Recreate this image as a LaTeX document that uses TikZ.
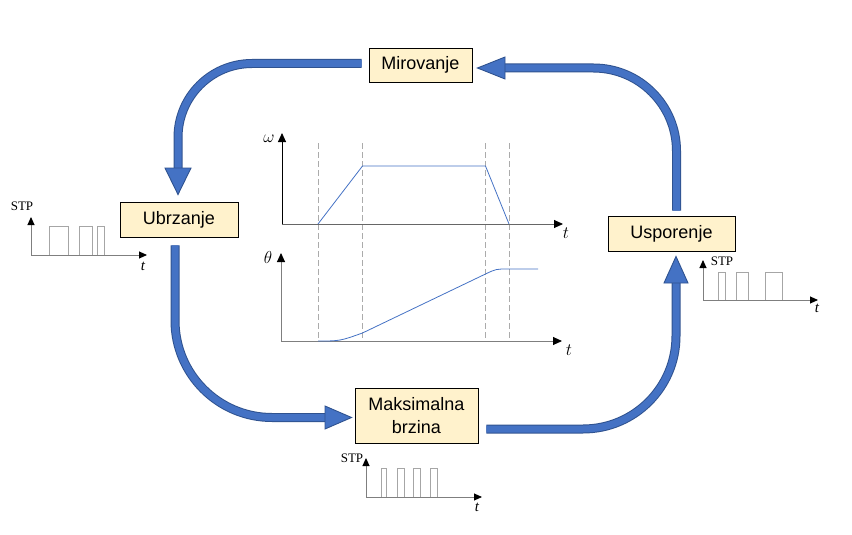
\documentclass[tikz,border=0pt]{standalone}
\usepackage{fontspec}
\setmainfont{Liberation Sans}
\newfontfamily\serifx{Liberation Serif}
\usetikzlibrary{arrows.meta,calc}
\definecolor{boxfill}{HTML}{FFF2CC}
\definecolor{arrfill}{HTML}{4472C4}
\definecolor{arrline}{HTML}{2F528F}
\definecolor{curvec}{HTML}{4472C4}
\definecolor{dashc}{HTML}{ABABAB}
\definecolor{axisc}{HTML}{7F7F7F}
\definecolor{pulsec}{HTML}{A6A6A6}
\tikzset{
  state/.style={draw=black, line width=0.9pt, fill=boxfill, inner sep=0pt, align=center,
    font=\fontsize{18}{22.5}\selectfont},
  shaftO/.style={draw=arrline, line width=9pt},
  shaftI/.style={draw=arrfill, line width=7pt},
  headst/.style={fill=arrfill, draw=arrline, line width=0.9pt, line join=miter},
  bigax/.style={line width=0.9pt, -{Triangle[length=9pt,width=8pt,color=black]}},
  smallax/.style={draw=axisc, line width=0.9pt, -{Triangle[length=8pt,width=7pt,color=black]}},
  pulse/.style={draw=pulsec, line width=0.9pt},
  guide/.style={draw=dashc, line width=0.8pt, dash pattern=on 6pt off 3pt},
  curveln/.style={draw=curvec, line width=0.8pt},
  stplbl/.style={font=\serifx\fontsize{13}{13}\selectfont, inner sep=0pt},
  tlbl/.style={font=\serifx\itshape\fontsize{15}{15}\selectfont, inner sep=0pt},
  mlbl/.style={inner sep=0pt, font=\fontsize{18}{18}\selectfont}
}
\begin{document}
\begin{tikzpicture}[x=1pt,y=-1pt]
\useasboundingbox (0,0) rectangle (852,535);

% state boxes
\node[state, minimum width=103pt, minimum height=34pt] (mir) at (420.5,65) {Mirovanje};
\node[state, minimum width=118pt, minimum height=35pt] (ubr) at (179,219.5) {Ubrzanje};
\node[state, minimum width=127pt, minimum height=35pt] (usp) at (671.5,233.5) {Usporenje};
\node[state, minimum width=123pt, minimum height=55pt] (mak) at (416.5,415.5) {Maksimalna\\brzina};

% head bases
\coordinate (a1b) at (178,168);
\coordinate (a2b) at (325,417.5);
\coordinate (a3b) at (676,283);
\coordinate (a4b) at (505,68);

% arrow 1: Mirovanje -> Ubrzanje
\draw[shaftO, rounded corners=74pt] ([xshift=-7pt,yshift=1.5pt]mir.west) -| (a1b);
\draw[shaftI, rounded corners=74pt] ([xshift=-7pt,yshift=1.5pt]mir.west) -| (a1b);
\filldraw[headst] ($(a1b)+(-13,0)$) -- ($(a1b)+(13,0)$) -- ([xshift=-1pt,yshift=7pt]ubr.north) -- cycle;

% arrow 2: Ubrzanje -> Maksimalna brzina
\draw[shaftO, rounded corners=97pt] ([xshift=-4pt,yshift=-8pt]ubr.south) |- (a2b);
\draw[shaftI, rounded corners=97pt] ([xshift=-4pt,yshift=-8pt]ubr.south) |- (a2b);
\filldraw[headst] ($(a2b)+(0,-11.5)$) -- ($(a2b)+(0,11.5)$) -- ([xshift=-3pt,yshift=-2pt]mak.west) -- cycle;

% arrow 3: Maksimalna brzina -> Usporenje
\draw[shaftO, rounded corners=93pt] ([xshift=8pt,yshift=-13.5pt]mak.east) -| (a3b);
\draw[shaftI, rounded corners=93pt] ([xshift=8pt,yshift=-13.5pt]mak.east) -| (a3b);
\filldraw[headst] ($(a3b)+(-12,0)$) -- ($(a3b)+(12,0)$) -- ([xshift=4.5pt,yshift=-5pt]usp.south) -- cycle;

% arrow 4: Usporenje -> Mirovanje
\draw[shaftO, rounded corners=83pt] ([xshift=5pt,yshift=5pt]usp.north) |- (a4b);
\draw[shaftI, rounded corners=83pt] ([xshift=5pt,yshift=5pt]usp.north) |- (a4b);
\filldraw[headst] ($(a4b)+(0,-11)$) -- ($(a4b)+(0,11)$) -- ([xshift=5pt,yshift=-3pt]mir.east) -- cycle;

% central charts: guides
\draw[guide] (318,143) -- (318,341);
\draw[guide] (362.5,143) -- (362.5,341);
\draw[guide] (485.5,143) -- (485.5,341);
\draw[guide] (509,143) -- (509,341);

% omega chart
\draw[bigax, draw=black] (282,224) -- (282,133);
\draw[bigax, draw=axisc!80!black] (282,224) -- (563,224);
\draw[curveln] (318,224) -- (362.5,166) -- (485.5,166) -- (509,224);
\node[mlbl] (om) at (269,139) {$\omega$};
\node[mlbl] (t1) at (566,233) {$t$};

% theta chart
\draw[bigax, draw=axisc] (281,341) -- (281,253);
\draw[bigax, draw=axisc] (281,341) -- (562,341);
\draw[curveln] (318,341) .. controls (340,341) .. (362.5,333) -- (485.5,274) .. controls (496,269) .. (508,269) -- (538,269);
\node[mlbl] (th) at (268,257) {$\theta$};
\node[mlbl] (t2) at (569,350) {$t$};

% STP left
\draw[smallax] (31,255) -- (31,217);
\draw[smallax] (31,255) -- (147,255);
\draw[pulse] (49,255) |- (68,226) -- (68,255);
\draw[pulse] (79,255) |- (92,226) -- (92,255);
\draw[pulse] (97,255) |- (104,226) -- (104,255);
\node[stplbl] (s1) at (22,206) {STP};
\node[tlbl] (t3) at (143,266) {t};

% STP right
\draw[smallax] (703,300) -- (703,260);
\draw[smallax] (703,300) -- (818,300);
\draw[pulse] (718,300) |- (725,272) -- (725,300);
\draw[pulse] (736,300) |- (748,272) -- (748,300);
\draw[pulse] (765,300) |- (782,272) -- (782,300);
\node[stplbl] (s2) at (722,261) {STP};
\node[tlbl] (t4) at (817,308) {t};

% STP bottom
\draw[smallax] (366,497) -- (366,458);
\draw[smallax] (366,497) -- (482,497);
\draw[pulse] (381,497) |- (386,468) -- (386,497);
\draw[pulse] (397,497) |- (404,468) -- (404,497);
\draw[pulse] (413,497) |- (420,468) -- (420,497);
\draw[pulse] (430,497) |- (437,468) -- (437,497);
\node[stplbl] (s3) at (352,458) {STP};
\node[tlbl] (t5) at (477,507) {t};
\end{tikzpicture}
\end{document}
